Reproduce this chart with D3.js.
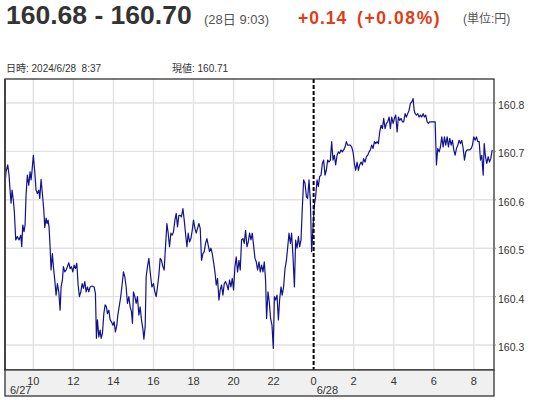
<!DOCTYPE html>
<html><head><meta charset="utf-8">
<script src="https://cdn.jsdelivr.net/npm/d3@7/dist/d3.min.js"></script>
<style>
html,body{margin:0;padding:0;background:#fff;}
svg{display:block;}
text{font-family:"Liberation Sans","Noto Sans CJK JP",sans-serif;}
</style></head>
<body>
<svg id="chart" width="537" height="400"></svg>
<script>
// hours since 2024-06-27 00:00
const times = [8.585,8.635,8.72,8.785,8.835,8.885,8.935,9.0,9.05,9.12,9.2,9.285,9.37,9.42,9.47,9.535,9.585,9.635,9.7,9.77,9.835,9.885,9.935,10.0,10.07,10.135,10.2,10.27,10.32,10.385,10.45,10.52,10.57,10.635,10.685,10.735,10.785,10.835,10.885,10.95,11.0,11.07,11.135,11.2,11.27,11.335,11.385,11.45,11.5,11.57,11.635,11.7,11.77,11.835,11.9,11.97,12.035,12.1,12.17,12.235,12.3,12.37,12.435,12.5,12.57,12.635,12.7,12.77,12.835,12.935,13.035,13.1,13.15,13.2,13.27,13.335,13.385,13.45,13.52,13.585,13.65,13.7,13.77,13.835,13.9,13.97,14.035,14.1,14.17,14.22,14.285,14.35,14.42,14.5,14.57,14.635,14.7,14.77,14.835,14.9,14.95,15.0,15.07,15.135,15.2,15.27,15.335,15.4,15.47,15.52,15.585,15.635,15.7,15.77,15.835,15.92,16.0,16.07,16.135,16.2,16.27,16.335,16.4,16.47,16.535,16.6,16.67,16.735,16.8,16.87,16.935,17.0,17.07,17.135,17.2,17.27,17.335,17.4,17.47,17.535,17.6,17.67,17.735,17.8,17.87,17.935,18.0,18.07,18.135,18.2,18.27,18.335,18.4,18.47,18.535,18.6,18.67,18.735,18.8,18.87,18.935,19.0,19.07,19.135,19.2,19.27,19.335,19.4,19.47,19.535,19.6,19.67,19.735,19.8,19.87,19.935,20.0,20.07,20.135,20.2,20.27,20.335,20.4,20.47,20.535,20.6,20.67,20.735,20.8,20.87,20.935,21.0,21.07,21.135,21.2,21.27,21.335,21.4,21.47,21.535,21.6,21.65,21.72,21.785,21.85,21.92,21.985,22.04,22.1,22.17,22.24,22.3,22.37,22.43,22.5,22.57,22.64,22.7,22.77,22.84,22.9,22.97,23.04,23.1,23.17,23.24,23.3,23.37,23.43,23.5,23.57,23.64,23.7,23.77,23.835,23.9,23.97,24.035,24.1,24.17,24.235,24.3,24.37,24.435,24.5,24.57,24.635,24.7,24.77,24.835,24.9,24.97,25.035,25.1,25.17,25.235,25.3,25.37,25.435,25.5,25.57,25.635,25.7,25.77,25.835,25.9,25.97,26.035,26.1,26.17,26.235,26.3,26.37,26.435,26.5,26.57,26.635,26.7,26.77,26.835,26.9,26.97,27.035,27.1,27.17,27.235,27.3,27.37,27.435,27.5,27.57,27.635,27.7,27.77,27.835,27.9,27.97,28.035,28.1,28.17,28.235,28.3,28.37,28.435,28.5,28.57,28.635,28.7,28.77,28.835,28.9,28.97,29.02,29.07,29.135,29.2,29.27,29.335,29.4,29.47,29.535,29.6,29.67,29.735,29.8,29.87,29.935,30.07,30.135,30.2,30.27,30.335,30.4,30.47,30.535,30.6,30.67,30.735,30.8,30.87,30.935,31.0,31.07,31.135,31.2,31.27,31.335,31.4,31.47,31.535,31.6,31.67,31.735,31.8,31.87,31.935,32.0,32.07,32.135,32.2,32.27,32.335,32.4,32.47,32.52,32.585,32.65,32.72,32.785,32.85,32.92,33.0];
const values = [160.634,160.658,160.672,160.651,160.620,160.593,160.620,160.599,160.575,160.517,160.524,160.517,160.527,160.503,160.548,160.534,160.548,160.610,160.651,160.630,160.658,160.641,160.661,160.692,160.658,160.620,160.613,160.620,160.603,160.642,160.613,160.579,160.543,160.562,160.551,160.558,160.543,160.503,160.455,160.489,160.462,160.434,160.403,160.427,160.410,160.372,160.420,160.434,160.462,160.451,160.455,160.462,160.470,160.458,160.462,160.451,160.465,160.458,160.469,160.424,160.400,160.410,160.427,160.417,160.431,160.410,160.420,160.410,160.420,160.422,160.420,160.407,160.314,160.352,160.317,160.331,160.314,160.324,160.365,160.383,160.379,160.365,160.372,160.352,160.348,160.341,160.348,160.327,160.341,160.362,160.379,160.396,160.420,160.451,160.441,160.420,160.386,160.400,160.379,160.369,160.345,160.410,160.400,160.386,160.400,160.362,160.379,160.352,160.334,160.312,160.338,160.441,160.462,160.479,160.451,160.420,160.427,160.410,160.400,160.420,160.445,160.479,160.475,160.462,160.455,160.503,160.551,160.531,160.503,160.531,160.527,160.534,160.558,160.572,160.544,160.568,160.568,160.565,160.582,160.558,160.531,160.503,160.531,160.513,160.520,160.537,160.558,160.541,160.531,160.541,160.551,160.541,160.475,160.489,160.493,160.510,160.520,160.506,160.493,160.500,160.489,160.472,160.451,160.424,160.438,160.393,160.414,160.424,160.403,160.427,160.431,160.424,160.414,160.434,160.420,160.438,160.414,160.462,160.482,160.451,160.475,160.455,160.517,160.520,160.510,160.537,160.503,160.513,160.531,160.517,160.531,160.506,160.479,160.472,160.455,160.472,160.451,160.465,160.451,160.472,160.434,160.355,160.410,160.389,160.355,160.341,160.293,160.400,160.393,160.403,160.352,160.393,160.420,160.403,160.420,160.458,160.475,160.500,160.531,160.510,160.531,160.482,160.420,160.517,160.500,160.524,160.503,160.517,160.579,160.641,160.634,160.606,160.603,160.641,160.599,160.493,160.544,160.589,160.606,160.641,160.627,160.648,160.651,160.675,160.682,160.651,160.661,160.682,160.678,160.682,160.720,160.682,160.692,160.672,160.692,160.699,160.696,160.703,160.699,160.703,160.709,160.720,160.713,160.713,160.713,160.709,160.699,160.675,160.661,160.678,160.661,160.672,160.678,160.672,160.685,160.678,160.689,160.692,160.699,160.703,160.713,160.706,160.720,160.716,160.720,160.716,160.740,160.754,160.747,160.768,160.747,160.758,160.761,160.771,160.747,160.771,160.758,160.768,160.775,160.740,160.771,160.764,160.768,160.761,160.761,160.778,160.771,160.778,160.785,160.799,160.802,160.809,160.785,160.778,160.775,160.778,160.771,160.775,160.771,160.778,160.771,160.775,160.761,160.758,160.761,160.761,160.761,160.761,160.672,160.706,160.699,160.709,160.730,160.709,160.730,160.713,160.730,160.709,160.727,160.713,160.723,160.703,160.692,160.706,160.713,160.723,160.716,160.723,160.706,160.682,160.699,160.703,160.703,160.703,160.706,160.713,160.730,160.723,160.730,160.720,160.720,160.682,160.692,160.651,160.716,160.689,160.675,160.689,160.678,160.685,160.703];
const yTicks = [160.3,160.4,160.5,160.6,160.7,160.8];
const dateLabels = ["6/27","6/28"];
const headline = "160.68 - 160.70";
const stamp = "(28日 9:03)";
const changeAbs = "+0.14";
const changePct = "(+0.08%)";
const unit = "(単位:円)";
const infoTime = "日時: 2024/6/28  8:37";
const infoPrice = "現値: 160.71";

const base = new Date(2024,5,27,0,0,0);
const toDate = h => new Date(base.getTime() + h*3600000);
const data = times.map((t,i)=>({d:toDate(t), v:values[i]}));

const svg = d3.select("#chart");
const L=5, R=494, T=79, B=370, AB=396;

const x = d3.scaleTime().domain([toDate(8.583), toDate(33.01)]).range([L,R]);
const y = d3.scaleLinear().domain([160.2485,160.8495]).range([B,T]);

// header
svg.append("text").attr("x",6).attr("y",24).attr("font-size",26.5).attr("font-weight","bold")
  .attr("fill","#333").text(headline);
svg.append("text").attr("x",204).attr("y",23.5).attr("font-size",13).attr("fill","#555").text(stamp);
svg.append("text").attr("x",298).attr("y",23.5).attr("font-size",17.5).attr("font-weight","bold")
  .attr("letter-spacing",1).attr("fill","#e03c16").text(changeAbs);
svg.append("text").attr("x",357).attr("y",23.5).attr("font-size",17.5).attr("font-weight","bold")
  .attr("letter-spacing",1.6).attr("fill","#e03c16").text(changePct);
svg.append("text").attr("x",463).attr("y",22.5).attr("font-size",12).attr("fill","#555").text(unit);
svg.append("text").attr("x",6).attr("y",72).attr("font-size",10).attr("fill","#333")
  .attr("xml:space","preserve").text(infoTime);
svg.append("text").attr("x",172).attr("y",72).attr("font-size",10).attr("fill","#333").text(infoPrice);

// grid
const xTicks = x.ticks(d3.timeHour.every(2));
const midnight = toDate(24);
svg.append("g").selectAll("line").data(yTicks).join("line")
  .attr("x1",L).attr("x2",R).attr("y1",d=>y(d)).attr("y2",d=>y(d))
  .attr("stroke","#e2e2e2").attr("stroke-width",1.4);
svg.append("g").selectAll("line").data(xTicks.filter(d=>+d!==+midnight)).join("line")
  .attr("x1",d=>x(d)).attr("x2",d=>x(d)).attr("y1",T).attr("y2",B)
  .attr("stroke","#e2e2e2").attr("stroke-width",1.4);

// line
const line = d3.line().x(d=>x(d.d)).y(d=>y(d.v));
svg.append("path").datum(data).attr("d",line).attr("fill","none")
  .attr("stroke","#12128e").attr("stroke-width",1.2).attr("stroke-linejoin","round");

// date divider
svg.append("line").attr("x1",x(midnight)).attr("x2",x(midnight)).attr("y1",T).attr("y2",B)
  .attr("stroke","#000").attr("stroke-width",2).attr("stroke-dasharray","4,2");

// plot frame
svg.append("rect").attr("x",L).attr("y",T).attr("width",R-L).attr("height",B-T)
  .attr("fill","none").attr("stroke","#333").attr("stroke-width",1.3);
svg.append("line").attr("x1",L).attr("x2",L).attr("y1",T).attr("y2",B).attr("stroke","#444").attr("stroke-width",2);

// x axis band
svg.append("rect").attr("x",L).attr("y",B).attr("width",R-L).attr("height",AB-B)
  .attr("fill","#f0f0f0").attr("stroke","#333").attr("stroke-width",1.3);
svg.append("g").selectAll("text").data(xTicks).join("text")
  .attr("x",d=>x(d)).attr("y",385).attr("text-anchor","middle").attr("font-size",11)
  .attr("fill","#333").text(d3.timeFormat("%-H"));
svg.append("text").attr("x",10).attr("y",394).attr("font-size",11).attr("fill","#333").text(dateLabels[0]);
svg.append("text").attr("x",x(midnight)+3).attr("y",394).attr("font-size",11).attr("fill","#333").text(dateLabels[1]);

// y axis labels
const yg = svg.append("g");
yg.selectAll("line").data(yTicks).join("line")
  .attr("x1",R).attr("x2",R+2).attr("y1",d=>y(d)).attr("y2",d=>y(d)).attr("stroke","#888");
yg.selectAll("text").data(yTicks).join("text")
  .attr("x",498).attr("y",d=>y(d)+6).attr("font-size",10.5).attr("fill","#333")
  .text(d=>d3.format(".1f")(d));
</script>
</body></html>
